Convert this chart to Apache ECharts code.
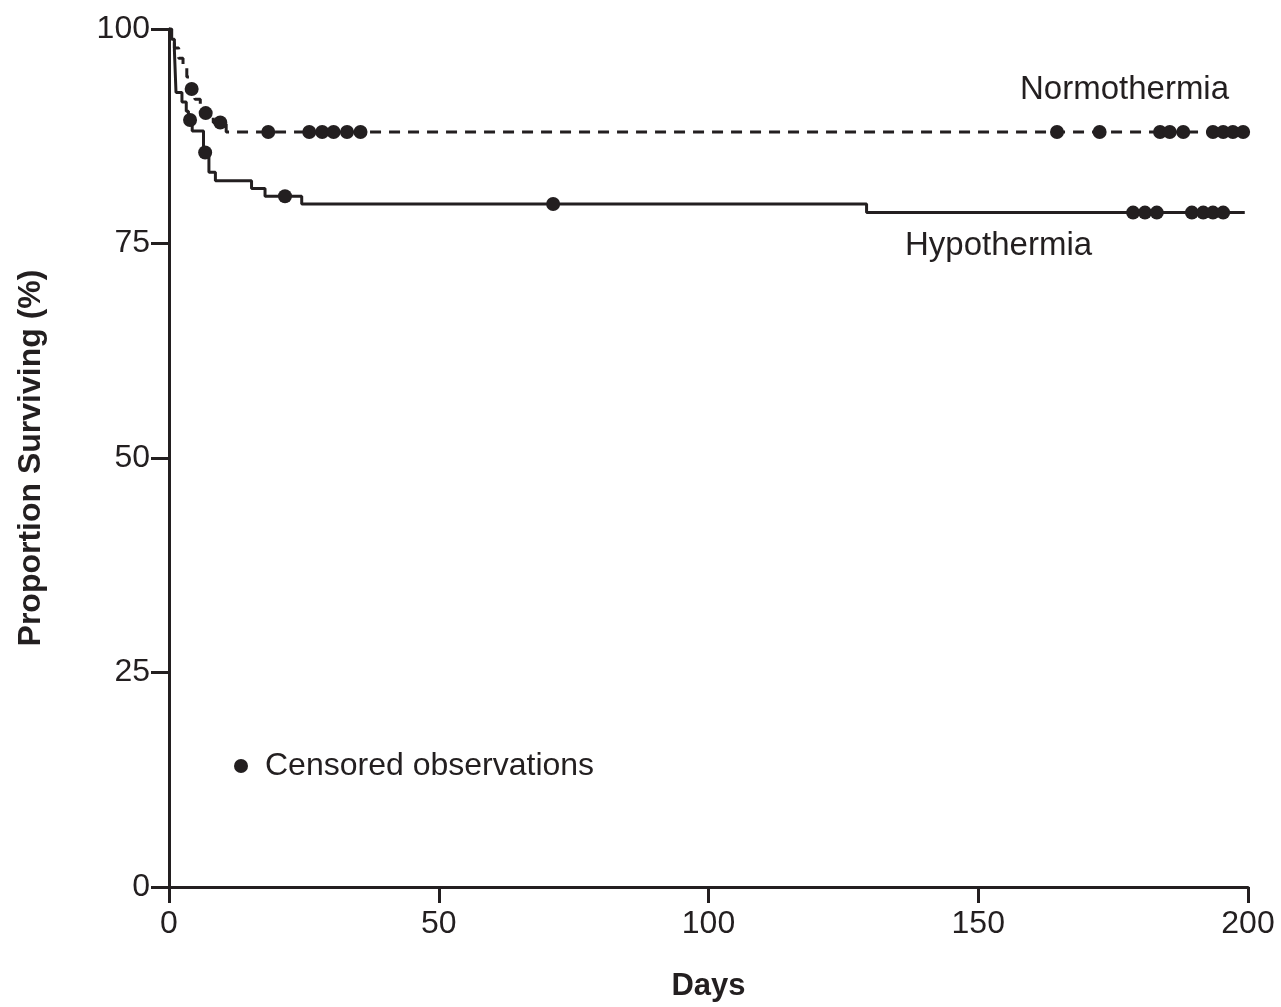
<!DOCTYPE html>
<html>
<head>
<meta charset="utf-8">
<script src="https://cdn.jsdelivr.net/npm/echarts@6/dist/echarts.min.js"></script>
<style>html,body{margin:0;padding:0;background:#fff}#c{width:1281px;height:1007px}</style>
</head>
<body>
<div id="c"></div>
<script>
// Kaplan-Meier step data (day at which survival changes, new survival %)
const hypoDays   = [0, 0.5, 1.0, 1.3, 2.4, 3.2, 3.6, 4.3, 6.4, 7.4, 8.6, 15.3, 17.8, 24.6, 129.3, 199.4];
const hypoSurv   = [100, 98.8, 97.5, 92.6, 91.5, 90.4, 89.4, 88.1, 85.6, 83.3, 82.3, 81.4, 80.5, 79.6, 78.6, 78.6];
const normoDays  = [0, 0.4, 1.0, 1.8, 2.6, 3.3, 4.0, 4.8, 5.8, 6.4, 8.2, 10.6, 200];
const normoSurv  = [100, 98.9, 97.8, 96.6, 95.5, 94.4, 93.0, 91.8, 91.0, 90.2, 89.1, 88.0, 88.0];
// censored observation days
const hypoCensored  = [3.9, 6.7, 21.5, 71.2, 178.7, 180.9, 183.1, 189.6, 191.7, 193.5, 195.4];
const normoCensored = [4.2, 6.8, 9.5, 18.4, 26, 28.4, 30.5, 33, 35.5, 164.6, 172.5, 183.7, 185.5, 188, 193.5, 195.4, 197.2, 199.1];
const yTicks = [0, 25, 50, 75, 100];
const xTicks = [0, 50, 100, 150, 200];

const INK = '#231f20';
const FONT = 'Liberation Sans, Arial, sans-serif';

function pairs(xs, ys) { return xs.map((x, i) => [x, ys[i]]); }
function survAt(xs, ys, t) {
  let v = ys[0];
  for (let i = 0; i < xs.length; i++) { if (xs[i] <= t) v = ys[i]; }
  return v;
}
const censoredPts = hypoCensored.map(t => [t, survAt(hypoDays, hypoSurv, t)])
  .concat(normoCensored.map(t => [t, survAt(normoDays, normoSurv, t)]));

const chart = echarts.init(document.getElementById('c'), null, {renderer: 'canvas'});
chart.setOption({
  animation: false,
  backgroundColor: '#fff',
  grid: {left: 169, right: 33, top: 29, bottom: 119, containLabel: false},
  xAxis: {
    type: 'value', min: xTicks[0], max: xTicks[xTicks.length - 1], interval: 50,
    name: 'Days', nameLocation: 'middle', nameGap: 84,
    nameTextStyle: {fontFamily: FONT, fontSize: 31, fontWeight: 'bold', color: INK},
    axisLine: {show: true, onZero: false, lineStyle: {color: INK, width: 3}},
    axisTick: {show: true, inside: false, length: 16, lineStyle: {color: INK, width: 3}},
    axisLabel: {fontFamily: FONT, fontSize: 32, color: INK, margin: 21},
    splitLine: {show: false}
  },
  yAxis: {
    type: 'value', min: yTicks[0], max: yTicks[yTicks.length - 1], interval: 25,
    name: 'Proportion Surviving (%)', nameLocation: 'middle', nameGap: 122, nameRotate: 90,
    nameTextStyle: {fontFamily: FONT, fontSize: 32, fontWeight: 'bold', color: INK},
    axisLine: {show: true, onZero: false, lineStyle: {color: INK, width: 3}},
    axisTick: {show: true, inside: false, length: 18, lineStyle: {color: INK, width: 3}},
    axisLabel: {fontFamily: FONT, fontSize: 32, color: INK, margin: 19},
    splitLine: {show: false}
  },
  legend: {
    show: true, left: 229, top: 745, orient: 'horizontal',
    icon: 'circle', itemWidth: 14, itemHeight: 14,
    data: ['Censored observations'],
    textStyle: {fontFamily: FONT, fontSize: 32, color: INK, padding: [0, 0, 0, 12]}
  },
  series: [
    {
      name: 'Normothermia', type: 'line', step: 'end', symbol: 'none',
      data: pairs(normoDays, normoSurv),
      lineStyle: {color: INK, width: 3, type: [11, 8]}, z: 2
    },
    {
      name: 'Hypothermia', type: 'line', step: 'end', symbol: 'none',
      data: pairs(hypoDays, hypoSurv),
      lineStyle: {color: INK, width: 3, type: 'solid'}, z: 2
    },
    {
      name: 'Censored observations', type: 'scatter', symbol: 'circle', symbolSize: 14,
      data: censoredPts, itemStyle: {color: INK, opacity: 1}, z: 3
    }
  ],
  graphic: [
    {type: 'text', left: 1020, top: 73, style: {text: 'Normothermia', font: '33px ' + FONT, fill: INK}},
    {type: 'text', left: 905, top: 229, style: {text: 'Hypothermia', font: '33px ' + FONT, fill: INK}}
  ]
});
</script>
</body>
</html>
